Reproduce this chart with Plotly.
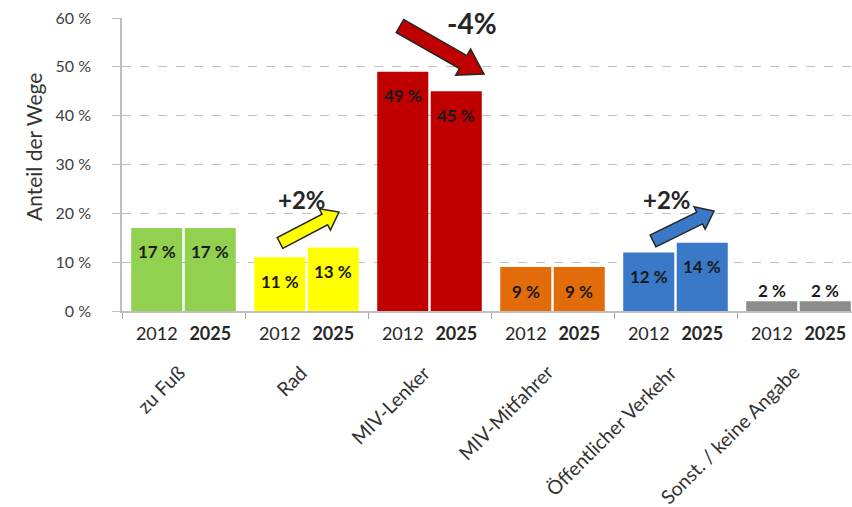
import math
import plotly.graph_objects as go

# ---------------- data ----------------
categories = ["zu Fuß", "Rad", "MIV-Lenker", "MIV-Mitfahrer",
              "Öffentlicher Verkehr", "Sonst. / keine Angabe"]
years = ["2012", "2025"]
values_2012 = [17, 11, 49, 9, 12, 2]
values_2025 = [17, 13, 45, 9, 14, 2]
colors = ["#92D050", "#FFFF00", "#C00000", "#E36C0A", "#3A78C8", "#8C8C8C"]
y_ticks = [0, 10, 20, 30, 40, 50, 60]
y_tick_labels = [f"{v} %" for v in y_ticks]
changes = [("+2%", 1), ("-4%", 2), ("+2%", 4)]   # (label, category index)

FONT = "Lato"
W, H = 852, 507
PL, PR, PT, PB = 122, 852, 18, 311   # plot area in window pixels
ML, MT, MR, MB = PL, PT, W - PR, H - PB
PW = PR - PL
PH = PB - PT
GROUP_PX = 123.0
x_max = -0.5 + PW / GROUP_PX
off = 0.2175

fig = go.Figure()
xs = list(range(len(categories)))
for yi, (yr, vals) in enumerate(zip(years, [values_2012, values_2025])):
    fig.add_trace(go.Bar(
        x=xs, y=vals, name=yr,
        marker=dict(color=colors, line=dict(width=0)),
        hoverinfo="y",
        showlegend=False,
    ))

# bar value labels
annotations = []
for i in xs:
    for k, vals in enumerate([values_2012, values_2025]):
        v = vals[i]
        xpos = i - off if k == 0 else i + off
        annotations.append(dict(
            x=xpos, y=v, xref="x", yref="y", text=f"<b>{v} %</b>",
            showarrow=False, yshift=(11 if v < 5 else -24),
            xanchor="center", yanchor="middle",
            font=dict(family=FONT, size=17, color="#1a1a1a"),
        ))


def to_paper(px, py):
    return (px - PL) / PW, (PB - py) / PH


# category labels (rotated)
for i, c in enumerate(categories):
    annotations.append(dict(
        x=i, y=to_paper(0, 358)[1], xref="x", yref="paper",
        text=c, showarrow=False, textangle=-45,
        xanchor="right", yanchor="top", xshift=8,
        font=dict(family=FONT, size=19.5, color="#333333"),
    ))

# y title
tx, ty = to_paper(33, 147)
annotations.append(dict(
    x=tx, y=ty, xref="paper", yref="paper",
    text="Anteil der Wege", showarrow=False, textangle=-90,
    xanchor="center", yanchor="middle",
    font=dict(family=FONT, size=21, color="#333333"),
))


def block_arrow(tail, tip, w, hw, hl):
    (x0, y0), (x1, y1) = tail, tip
    L = math.hypot(x1 - x0, y1 - y0)
    dx, dy = (x1 - x0) / L, (y1 - y0) / L
    nx, ny = -dy, dx
    bx, by = x1 - dx * hl, y1 - dy * hl
    pts = [
        (x0 + nx * w, y0 + ny * w),
        (bx + nx * w, by + ny * w),
        (bx + nx * hw, by + ny * hw),
        (x1, y1),
        (bx - nx * hw, by - ny * hw),
        (bx - nx * w, by - ny * w),
        (x0 - nx * w, y0 - ny * w),
    ]
    pp = [to_paper(*p) for p in pts]
    return "M " + " L ".join(f"{a:.5f},{b:.5f}" for a, b in pp) + " Z"


arrow_geom = {
    1: dict(tail=(280, 243), tip=(339, 212), w=6, hw=12, hl=16,
            text_xy=(302, 199), size=24),
    2: dict(tail=(400, 26), tip=(484, 74), w=7.5, hw=15, hl=24,
            text_xy=(472, 23), size=28),
    4: dict(tail=(653, 241), tip=(714, 211), w=6.5, hw=12.5, hl=16,
            text_xy=(667, 199), size=24),
}
shapes = []
for label, ci in changes:
    g = arrow_geom[ci]
    shapes.append(dict(
        type="path", xref="paper", yref="paper",
        path=block_arrow(g["tail"], g["tip"], g["w"], g["hw"], g["hl"]),
        fillcolor=colors[ci], line=dict(color="#262626", width=1.5),
        layer="above",
    ))
    tx, ty = to_paper(*g["text_xy"])
    annotations.append(dict(
        x=tx, y=ty, xref="paper", yref="paper", text=f"<b>{label}</b>",
        showarrow=False, xanchor="center", yanchor="middle",
        font=dict(family=FONT, size=g["size"], color="#262626"),
    ))

tickvals = []
ticktext = []
for i in xs:
    tickvals += [i - off, i + off]
    ticktext += [years[0], f"<b>{years[1]}</b>"]

fig.update_layout(
    width=W, height=H,
    margin=dict(l=ML, r=MR, t=MT, b=MB, pad=0),
    paper_bgcolor="white", plot_bgcolor="white",
    barmode="group", bargap=0.13, bargroupgap=0.046,
    font=dict(family=FONT, color="#404040"),
    annotations=annotations, shapes=shapes,
    xaxis=dict(
        range=[-0.5, x_max], tickmode="array", tickvals=tickvals,
        ticktext=ticktext, ticks="outside", ticklen=6,
        tickcolor="rgba(0,0,0,0)", showgrid=False, zeroline=False,
        showline=True, linecolor="#BFBFBF", linewidth=1.5,
        tickfont=dict(family=FONT, size=18, color="#262626"),
        ticklabeloverflow="allow",
        minor=dict(tickmode="array",
                   tickvals=[i - 0.5 for i in range(len(categories) + 1)],
                   ticks="outside", ticklen=6, tickcolor="#A6A6A6",
                   tickwidth=1, showgrid=False),
        fixedrange=True,
    ),
    yaxis=dict(
        range=[0, 60], tickmode="array", tickvals=y_ticks,
        ticktext=y_tick_labels, ticks="outside", ticklen=8,
        tickcolor="#BFBFBF", ticklabelstandoff=18,
        ticklabeloverflow="allow",
        showgrid=True, gridcolor="#BFBFBF", griddash="dash", gridwidth=1,
        zeroline=False, showline=True, linecolor="#BFBFBF", linewidth=1.5,
        tickfont=dict(family=FONT, size=16, color="#404040"),
        fixedrange=True,
    ),
)

fig.write_html(
    "out.html",
    config={"displayModeBar": False},
    post_script="document.body.style.margin='0';document.body.style.padding='0';",
)
